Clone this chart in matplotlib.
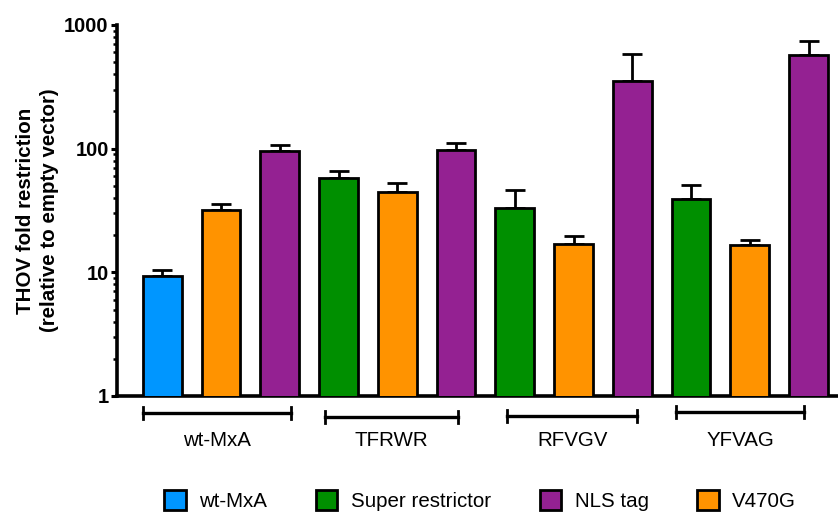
import matplotlib
matplotlib.use("Agg")
import matplotlib.pyplot as plt
from matplotlib.patches import Patch
from matplotlib.ticker import LogLocator, FixedLocator, NullFormatter
import numpy as np

plt.rcParams['font.family'] = ['Liberation Sans', 'DejaVu Sans']

# Constructs and their bars (three per construct)
groups = ["wt-MxA", "TFRWR", "RFVGV", "YFVAG"]
bar_kinds = ["wt-MxA", "V470G", "NLS tag",
             "Super restrictor", "V470G", "NLS tag",
             "Super restrictor", "V470G", "NLS tag",
             "Super restrictor", "V470G", "NLS tag"]
means = [9.3, 31.9, 96.0,
         57.5, 44.6, 97.5,
         32.9, 16.8, 354.0,
         39.1, 16.5, 574.0]
upper = [10.4, 35.7, 107.0,
         65.6, 52.7, 111.6,
         46.0, 19.8, 582.0,
         50.5, 18.2, 741.0]

legend_order = ["wt-MxA", "Super restrictor", "NLS tag", "V470G"]
colors = {"wt-MxA": "#0096FF", "Super restrictor": "#008F00",
          "NLS tag": "#942192", "V470G": "#FF9300"}

fig = plt.figure(figsize=(8.38, 5.12), dpi=100)
ax = fig.add_axes([0.1396, 0.2266, 0.8604, 0.7246])

x = np.arange(len(means))
err = np.array(upper) - np.array(means)
ax.bar(x, means, width=0.66, color=[colors[k] for k in bar_kinds],
       edgecolor="black", linewidth=2.0, zorder=3)
ax.errorbar(x, means, yerr=[np.zeros_like(err), err], fmt="none",
            ecolor="black", elinewidth=2.0, capsize=7.5, capthick=2.0, zorder=2)

ax.set_yscale("log")
ax.set_ylim(1, 1000)
ax.set_xlim(-0.77, 11.5)
ax.yaxis.set_major_locator(FixedLocator([1, 10, 100, 1000]))
ax.set_yticklabels(["1", "10", "100", "1000"], fontsize=14.5, fontweight="bold")
ax.yaxis.set_minor_locator(LogLocator(base=10, subs=np.arange(2, 10)))
ax.yaxis.set_minor_formatter(NullFormatter())
ax.tick_params(axis="y", which="major", length=4.5, width=2.2, pad=1.5)
ax.tick_params(axis="y", which="minor", length=2.8, width=1.8)
ax.set_xticks([])

for s in ["top", "right"]:
    ax.spines[s].set_visible(False)
for s in ["left", "bottom"]:
    ax.spines[s].set_linewidth(2.6)

ax.set_ylabel("THOV fold restriction\n(relative to empty vector)",
              fontsize=14.8, fontweight="bold", labelpad=4, linespacing=1.3)

# Group brackets under the axis
bracket_spans = [(-0.32, 2.19), (2.77, 5.03), (5.87, 8.08), (8.75, 10.92)]
bracket_y = [-0.046, -0.057, -0.054, -0.043]
trans = ax.get_xaxis_transform()
for name, (l, r), yb in zip(groups, bracket_spans, bracket_y):
    ax.plot([l, r], [yb, yb], color="black", lw=2.4, transform=trans, clip_on=False)
    for xe in (l, r):
        ax.plot([xe, xe], [yb - 0.017, yb + 0.017], color="black", lw=2.0,
                transform=trans, clip_on=False)
    ax.text((l + r) / 2, -0.119, name, transform=trans, ha="center", va="center",
            fontsize=14.8)

handles = [Patch(facecolor=colors[k], edgecolor="black", linewidth=2.0) for k in legend_order]
fig.legend(handles, legend_order, loc="center", bbox_to_anchor=(0.573, 0.023),
           ncol=4, frameon=False, fontsize=14.8, handlelength=1.05, handleheight=1.1,
           handletextpad=0.65, columnspacing=2.37, borderpad=0.1)

fig.savefig("out.png", dpi=100)
